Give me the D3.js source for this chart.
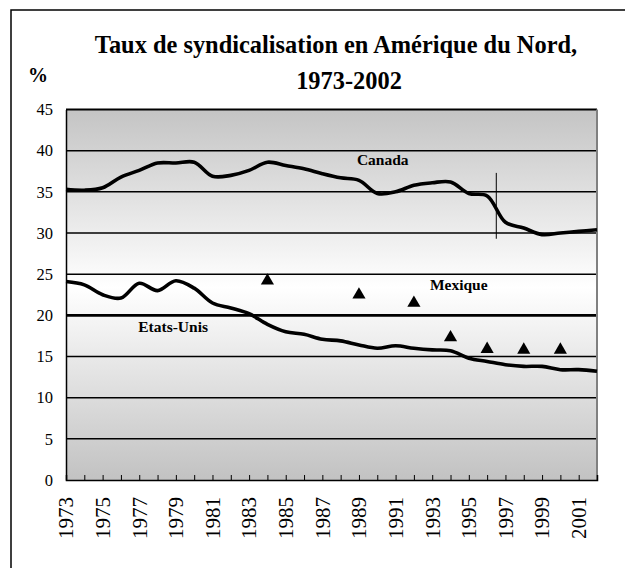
<!DOCTYPE html>
<html>
<head>
<meta charset="utf-8">
<script src="https://cdn.jsdelivr.net/npm/d3@7/dist/d3.min.js"></script>
<style>
  html, body { margin: 0; padding: 0; background: #fff; }
  svg { display: block; }
  text { font-family: "Liberation Serif", "Times New Roman", Times, "DejaVu Serif", serif; fill: #000; }
</style>
</head>
<body>
<svg id="chart" width="625" height="568"></svg>
<script>
// ---- data ----
const years = d3.range(1973, 2003);
const canada = [35.3, 35.2, 35.5, 36.8, 37.6, 38.5, 38.5, 38.6, 36.9, 37.0,
                37.6, 38.6, 38.2, 37.8, 37.2, 36.7, 36.4, 34.8, 35.0, 35.8,
                36.1, 36.2, 34.8, 34.5, 31.3, 30.6, 29.8, 30.0, 30.2, 30.4];
const etatsUnis = [24.1, 23.7, 22.5, 22.1, 23.9, 23.0, 24.2, 23.3, 21.5, 20.9,
                   20.2, 18.9, 18.0, 17.7, 17.1, 16.9, 16.4, 16.0, 16.3, 16.0,
                   15.8, 15.7, 14.8, 14.4, 14.0, 13.8, 13.8, 13.4, 13.4, 13.2];
const mexiqueYears = [1984, 1989, 1992, 1994, 1996, 1998, 2000];
const mexique = [24.2, 22.5, 21.5, 17.3, 15.9, 15.8, 15.8];
const yTicks = [0, 5, 10, 15, 20, 25, 30, 35, 40, 45];
const xLabelYears = d3.range(1973, 2002, 2);
const breakMark = { afterYear: 1996, from: 37.3, to: 29.3 };
const titleLines = ["Taux de syndicalisation en Amérique du Nord,", "1973-2002"];
const seriesLabels = [
  { text: "Canada", year: 1990.3, value: 38.3 },
  { text: "Mexique", year: 1994.45, value: 23.1 },
  { text: "Etats-Unis", year: 1978.85, value: 18.0 }
];

// ---- layout ----
const svg = d3.select("#chart");
const L = 66, R = 597, T = 109.5, B = 480;

const x = d3.scalePoint().domain(years).range([L, R]);
const y = d3.scaleLinear().domain([0, 45]).range([B, T]);
const xYear = yr => x(years[0]) + (yr - years[0]) * x.step();

// outer frame (extends beyond the window on right & bottom)
svg.append("rect")
  .attr("x", 11).attr("y", 10).attr("width", 700).attr("height", 700)
  .attr("fill", "none").attr("stroke", "#000").attr("stroke-width", 1.5);

// gradient background
const defs = svg.append("defs");
const grad = defs.append("linearGradient").attr("id", "bg")
  .attr("x1", 0).attr("y1", 0).attr("x2", 0).attr("y2", 1);
grad.append("stop").attr("offset", "0%").attr("stop-color", "#c4c4c4");
grad.append("stop").attr("offset", "48%").attr("stop-color", "#ffffff");
grad.append("stop").attr("offset", "100%").attr("stop-color", "#c2c2c2");

svg.append("rect")
  .attr("x", L).attr("y", T).attr("width", R - L).attr("height", B - T)
  .attr("fill", "url(#bg)");

// gridlines
svg.append("g").selectAll("line").data(yTicks.filter(d => d > 0)).join("line")
  .attr("x1", L).attr("x2", R)
  .attr("y1", d => y(d)).attr("y2", d => y(d))
  .attr("stroke", "#000")
  .attr("stroke-width", d => d === 20 ? 2.6 : (d === 45 ? 2 : 1.5));

// right border (grey)
svg.append("line")
  .attr("x1", R).attr("x2", R).attr("y1", T).attr("y2", B)
  .attr("stroke", "#808080").attr("stroke-width", 2);

// y axis
const yAxis = d3.axisLeft(y).tickValues(yTicks).tickSize(0).tickPadding(13);
const gy = svg.append("g").attr("transform", `translate(${L},0)`).call(yAxis);
gy.attr("font-family", null);
gy.select(".domain").attr("stroke", "#000").attr("stroke-width", 1.5);
gy.selectAll("text").style("font-size", "16.5px");

// x axis
const xAxis = d3.axisBottom(x).tickSize(-5).tickFormat("");
const gx = svg.append("g").attr("transform", `translate(0,${B})`).call(xAxis);
gx.select(".domain").attr("stroke", "#000").attr("stroke-width", 1.5);
gx.selectAll(".tick line").attr("stroke", "#000").attr("stroke-width", 1);

svg.append("g").selectAll("text").data(xLabelYears).join("text")
  .attr("transform", d => `translate(${x(d)},${B + 17}) rotate(-90)`)
  .attr("text-anchor", "end")
  .attr("dy", "0.35em")
  .style("font-size", "21px")
  .text(d => d);

// lines
const line = d3.line()
  .x((d, i) => x(years[i]))
  .y(d => y(d))
  .curve(d3.curveCatmullRom.alpha(0.5));

[canada, etatsUnis].forEach(s => {
  svg.append("path").datum(s)
    .attr("d", line)
    .attr("fill", "none").attr("stroke", "#000")
    .attr("stroke-width", 3.6).attr("stroke-linejoin", "round");
});

// series break marker
const bx = (x(breakMark.afterYear) + x(breakMark.afterYear + 1)) / 2;
svg.append("line")
  .attr("x1", bx).attr("x2", bx)
  .attr("y1", y(breakMark.from)).attr("y2", y(breakMark.to))
  .attr("stroke", "#000").attr("stroke-width", 1);

// Mexique triangles
const tri = d3.symbol().type(d3.symbolTriangle).size(75);
svg.append("g").selectAll("path").data(mexique).join("path")
  .attr("transform", (d, i) => `translate(${x(mexiqueYears[i])},${y(d)})`)
  .attr("d", tri)
  .attr("fill", "#000");

// series labels
svg.append("g").selectAll("text").data(seriesLabels).join("text")
  .attr("x", d => xYear(d.year))
  .attr("y", d => y(d.value))
  .attr("text-anchor", "middle")
  .style("font-size", "15.5px").style("font-weight", "bold")
  .text(d => d.text);

// title
svg.append("text")
  .attr("x", 336).attr("y", 53)
  .attr("text-anchor", "middle")
  .style("font-size", "24.4px").style("font-weight", "bold")
  .text(titleLines[0]);
svg.append("text")
  .attr("x", 349).attr("y", 89)
  .attr("text-anchor", "middle")
  .style("font-size", "24.4px").style("font-weight", "bold")
  .text(titleLines[1]);

svg.append("text")
  .attr("x", 38).attr("y", 82)
  .attr("text-anchor", "middle")
  .style("font-size", "20px").style("font-weight", "bold")
  .text("%");
</script>
</body>
</html>
